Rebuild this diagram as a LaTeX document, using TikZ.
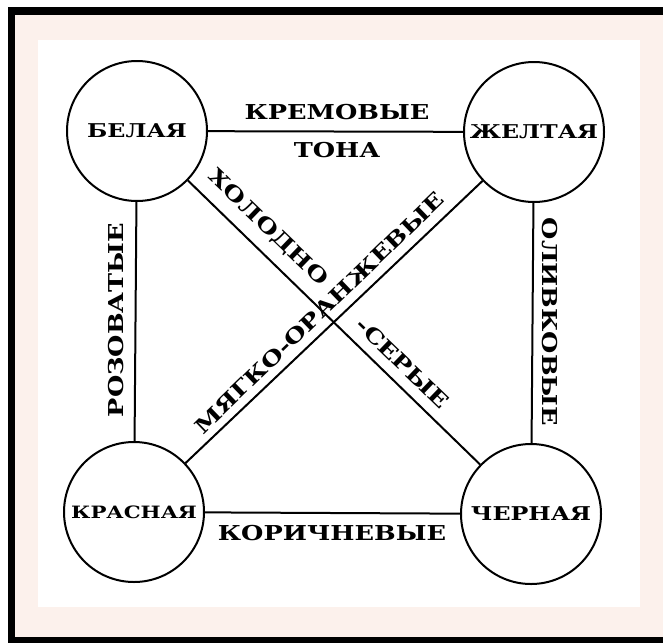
\documentclass[tikz,border=0pt]{standalone}
\usepackage{fontspec}
\newfontfamily\lblfont{DejaVu Serif}[FakeStretch=1.25]
\definecolor{bandpink}{RGB}{252,241,236}
\tikzset{
  colorbox/.style={circle, draw, line width=2pt, minimum size=140pt, inner sep=0pt, font=\lblfont\bfseries\fontsize{19}{19}\selectfont},
  link/.style={line width=2pt},
  lbl/.style={inner sep=0pt, font=\lblfont\bfseries\fontsize{20.5}{20.5}\selectfont}
}
\begin{document}
\begin{tikzpicture}[x=1pt,y=-1pt]
\useasboundingbox (0,0) rectangle (663,643);
\fill[white] (0,0) rectangle (663,643);
\fill[black] (8,7) rectangle (663,643);
\fill[bandpink] (15,15) rectangle (663,637);
\fill[white] (38,40) rectangle (640,607);

\node[colorbox] (W) at (137,131) {БЕЛАЯ};
\node[colorbox] (Y) at (534,132) {ЖЕЛТАЯ};
\node[colorbox, font=\lblfont\bfseries\fontsize{17}{17}\selectfont] (R) at (134,512) {КРАСНАЯ};
\node[colorbox] (B) at (531,514) {ЧЕРНАЯ};

\draw[link] (W) -- (Y);
\draw[link] (W) -- (R);
\draw[link] (Y) -- (B);
\draw[link] (R) -- (B);
\draw[link] (W) -- (B);
\draw[link] (Y) -- (R);

\node[lbl] (t1) at (337,112) {КРЕМОВЫЕ};
\node[lbl] (t2) at (337,150) {ТОНА};
\node[lbl, rotate=90] (t3) at (116,320) {РОЗОВАТЫЕ};
\node[lbl, rotate=-90] (t4) at (550,322) {ОЛИВКОВЫЕ};
\node[lbl] (t5) at (332,533) {КОРИЧНЕВЫЕ};
\node[lbl, rotate=-44] (t6) at (268,228) {ХОЛОДНО};
\node[lbl, rotate=-44] (t7) at (403,363) {-СЕРЫЕ};
\node[lbl, rotate=44] (t8) at (319,313) {МЯГКО-ОРАНЖЕВЫЕ};
\end{tikzpicture}
\end{document}
